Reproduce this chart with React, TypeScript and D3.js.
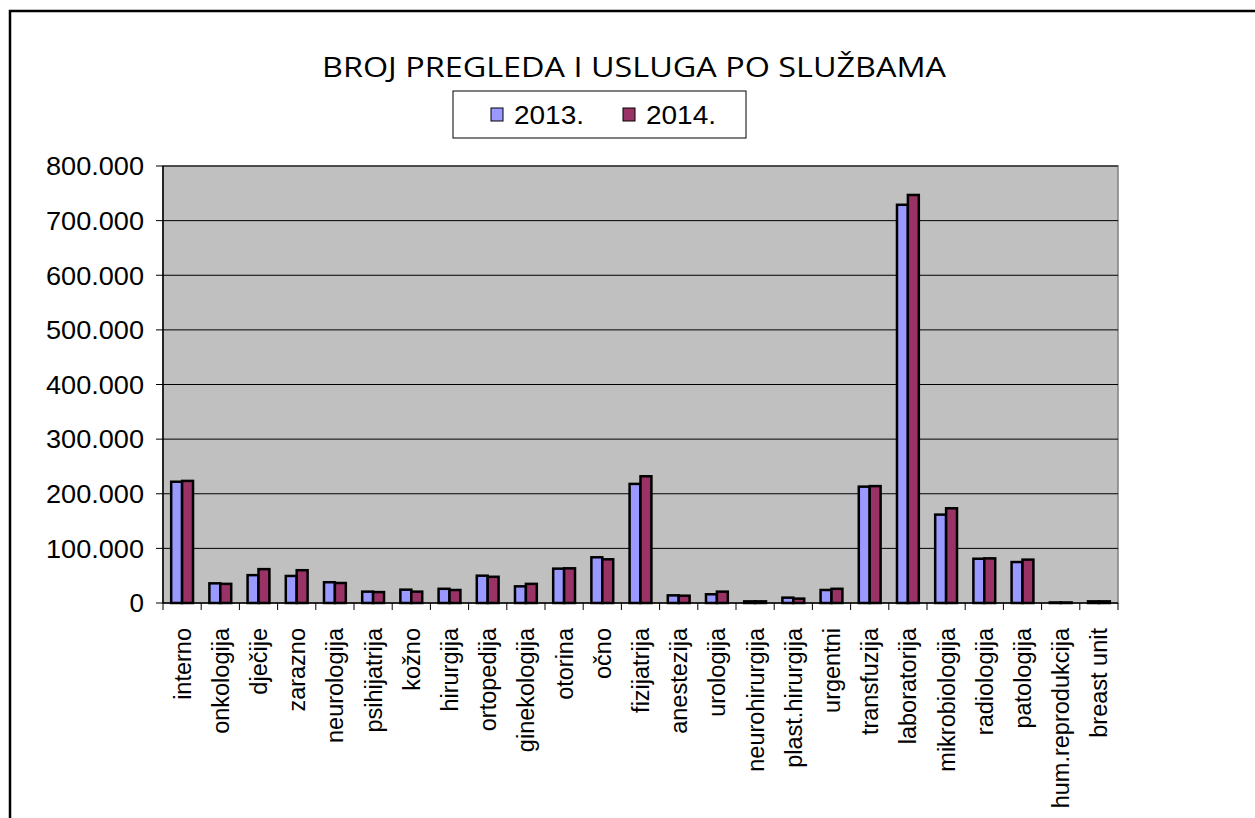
import * as d3 from 'd3';

const categories = [
  'interno', 'onkologija', 'dječije', 'zarazno', 'neurologija', 'psihijatrija',
  'kožno', 'hirurgija', 'ortopedija', 'ginekologija', 'otorina', 'očno',
  'fizijatrija', 'anestezija', 'urologija', 'neurohirurgija', 'plast.hirurgija',
  'urgentni', 'transfuzija', 'laboratorija', 'mikrobiologija', 'radiologija',
  'patologija', 'hum.reprodukcija', 'breast unit',
];

const values2013 = [
  222000, 36000, 51000, 49500, 38000, 20800, 24400, 26000, 50000, 30500, 62900, 83700,
  218000, 14000, 16000, 3000, 9800, 23800, 213000, 729000, 161800, 81000, 75000, 1000, 3000,
];

const values2014 = [
  223500, 35000, 62000, 60000, 36600, 20000, 20800, 23800, 48000, 35000, 63500, 80000,
  232000, 13400, 20800, 3000, 8000, 26000, 214000, 747000, 173400, 81700, 79400, 1000, 3000,
];

const seriesNames = ['2013.', '2014.'];
const seriesColors = ['#9999FF', '#993366'];
const yTicks = [0, 100000, 200000, 300000, 400000, 500000, 600000, 700000, 800000];

const title = 'BROJ PREGLEDA I USLUGA PO SLUŽBAMA';

const W = 1255;
const H = 818;
const plot = { left: 163, right: 1118, top: 166, bottom: 603 };

const fmt = d3.formatLocale({ decimal: ',', thousands: '.', grouping: [3], currency: ['', ''] }).format(',');

export default function App() {
  const x = d3.scaleBand<string>().domain(categories).range([plot.left, plot.right]);
  const bw = x.bandwidth();
  // Excel gap width 150%
  const barW = bw / 3.5;
  const xs = d3
    .scaleBand<string>()
    .domain(seriesNames)
    .range([barW * 0.75, bw - barW * 0.75]);
  const y = d3.scaleLinear().domain([0, 800000]).range([plot.bottom, plot.top]);

  const series = [values2013, values2014];
  const arial = '"Liberation Sans", Arial, sans-serif';

  return (
    <svg width={W} height={H} style={{ position: 'absolute', left: 0, top: 0, background: '#fff' }}>
      {/* chart border */}
      <rect x={10} y={11} width={W + 20} height={H + 20} fill="#fff" stroke="#000" strokeWidth={2.5} />

      <text
        x={634}
        y={77}
        textAnchor="middle"
        fontFamily='"Open Sans", "Noto Sans", sans-serif'
        fontSize={28}
        textLength={624}
        lengthAdjust="spacingAndGlyphs"
        fill="#000"
      >
        {title}
      </text>

      {/* legend */}
      <rect x={453} y={91} width={293} height={47} fill="#fff" stroke="#000" strokeWidth={1} />
      {seriesNames.map((s, i) => (
        <g key={s} transform={`translate(${491 + i * 132},108)`}>
          <rect x={0} y={0} width={12} height={13} fill={seriesColors[i]} stroke="#000" strokeWidth={1} />
          <text x={23} y={16} fontFamily={arial} fontSize={25} textLength={70} lengthAdjust="spacingAndGlyphs">
            {s}
          </text>
        </g>
      ))}

      {/* plot area */}
      <rect
        x={plot.left}
        y={plot.top}
        width={plot.right - plot.left}
        height={plot.bottom - plot.top}
        fill="#C0C0C0"
        stroke="#808080"
        strokeWidth={1.5}
      />
      {yTicks.map((t) => (
        <g key={t}>
          {t > 0 && (
            <line x1={plot.left} x2={plot.right} y1={y(t)} y2={y(t)} stroke="#000" strokeWidth={1} />
          )}
          <line x1={plot.left - 7} x2={plot.left} y1={y(t)} y2={y(t)} stroke="#000" strokeWidth={1} />
          <text
            x={plot.left - 19}
            y={y(t)}
            dy="0.36em"
            textAnchor="end"
            fontFamily={arial}
            fontSize={26}
            textLength={t === 0 ? undefined : 98}
            lengthAdjust="spacingAndGlyphs"
          >
            {fmt(t)}
          </text>
        </g>
      ))}

      {/* bars */}
      {categories.map((c, ci) => (
        <g key={c} transform={`translate(${x(c)},0)`}>
          {series.map((vals, si) => {
            const top = y(vals[ci]);
            return (
              <rect
                key={si}
                x={xs(seriesNames[si])}
                y={top}
                width={xs.bandwidth()}
                height={Math.max(0, plot.bottom - top)}
                fill={seriesColors[si]}
                stroke="#000"
                strokeWidth={2.5}
              />
            );
          })}
        </g>
      ))}

      {/* axes */}
      <line x1={plot.left} x2={plot.left} y1={plot.top} y2={plot.bottom} stroke="#000" strokeWidth={1.5} />
      <line x1={plot.left} x2={plot.right} y1={plot.bottom} y2={plot.bottom} stroke="#000" strokeWidth={1.5} />
      {[...categories.map((c) => x(c) as number), plot.right].map((px, i) => (
        <line key={i} x1={px} x2={px} y1={plot.bottom} y2={plot.bottom + 7} stroke="#000" strokeWidth={1} />
      ))}
      {categories.map((c) => {
        const cx = (x(c) as number) + bw / 2 + 8.5;
        return (
          <text
            key={c}
            transform={`translate(${cx},628) rotate(-90)`}
            textAnchor="end"
            fontFamily={arial}
            fontSize={23.5}
          >
            {c}
          </text>
        );
      })}
    </svg>
  );
}
